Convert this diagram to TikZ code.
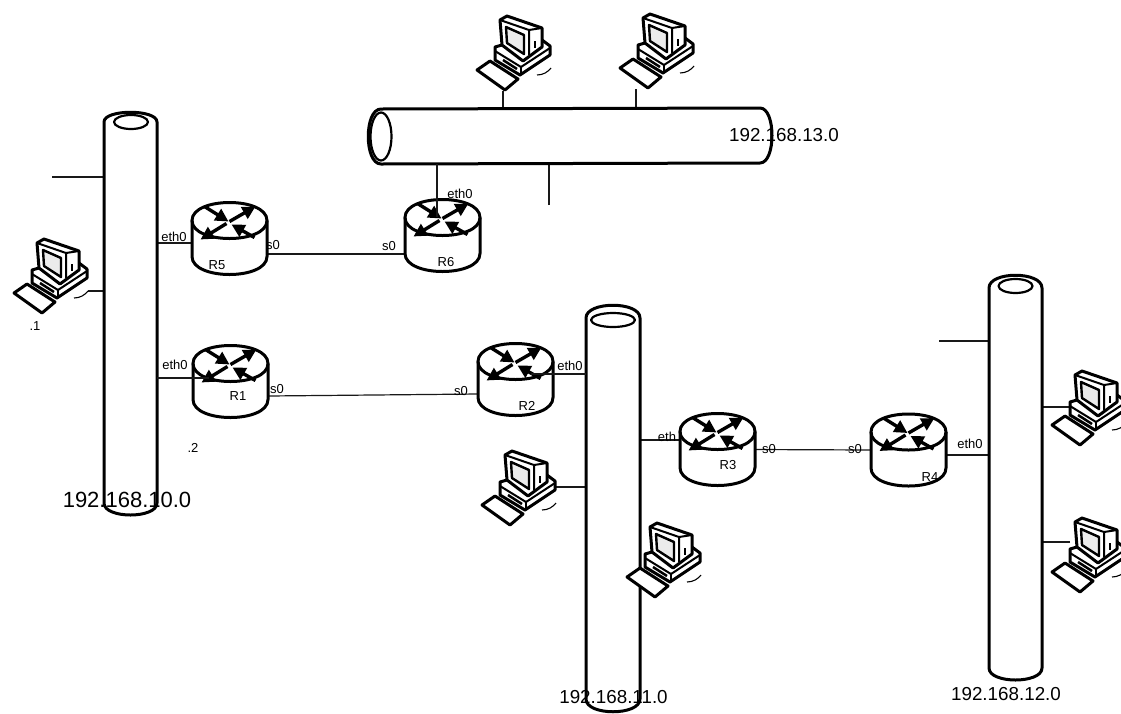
\documentclass[tikz,border=0pt]{standalone}
\usepackage{fontspec}
\setmainfont{Liberation Sans}
\usetikzlibrary{arrows.meta}
\tikzset{
  x=1pt,y=-1pt,
  bus/.style={line width=3pt,fill=white,line join=round},
  link/.style={line width=1.2pt,black!90},
  anchorbox/.style={inner sep=0pt,outer sep=0pt,minimum width=#1,draw=none},
  bigip/.style={font=\fontsize{18.8}{20}\selectfont,inner sep=0pt},
  iface/.style={font=\fontsize{13}{14}\selectfont,inner sep=0pt},
  rname/.style={font=\fontsize{13}{14}\selectfont,inner sep=0pt},
  routerpic/.pic={
    \fill[white] (-37.5,-18) -- (-37.5,18) .. controls (-37.5,42) and (37.5,42) .. (37.5,18) -- (37.5,-18) .. controls (37.5,-42) and (-37.5,-42) .. (-37.5,-18) -- cycle;
    \draw[line width=3pt] (-37.5,-18) .. controls (-37.5,-42) and (37.5,-42) .. (37.5,-18) .. controls (37.5,6) and (-37.5,6) .. (-37.5,-18) -- cycle;
    \draw[line width=3pt] (-37.5,-18) -- (-37.5,18) .. controls (-37.5,42) and (37.5,42) .. (37.5,18) -- (37.5,-18);
    \draw[line width=3.4pt,-{Triangle[length=13pt,width=13pt]}] (0,-17) -- (26,-32);
    \draw[line width=3.4pt,-{Triangle[length=13pt,width=13pt]}] (-3,-15) -- (-29,1);
    \draw[line width=3.4pt,-{Triangle[length=13pt,width=13pt]}] (-25,-32) -- (-1,-17);
    \draw[line width=3.4pt,-{Triangle[length=13pt,width=13pt]}] (25,-1) -- (2,-14);
  },
  pcpic/.pic={
    \begin{scope}[line width=3pt,line join=round,fill=white]
    \filldraw (2,55) -- (15,46) -- (43,64) -- (30,75) -- cycle;
    \filldraw (20,32) -- (20,45) -- (45,60) -- (75,40) -- (75,31) -- (67,25) -- (27,30) -- cycle;
    \draw[line width=2pt] (20,36) -- (46,52) -- (75,33);
    \draw[line width=2pt] (46,52) -- (46,60);
    \draw[line width=2.5pt] (28,45) -- (42,54);
    \filldraw (25,5) -- (32,1) -- (67,13) -- (67,32) -- (48,46) -- (27,30) -- cycle;
    \draw[line width=2pt] (25,5) -- (54,15) -- (54,40);
    \draw[line width=2pt] (54,15) -- (67,13);
    \draw[line width=2.4pt,fill=black!8] (31,12) -- (49,20) -- (49,39) -- (32,28) -- cycle;
    \draw[line width=1.4pt] (60,26) -- (60,33);
    \draw[line width=1.1pt] (62,60) .. controls (68,60) and (73,57) .. (76,53);
    \end{scope}
  }
}
\begin{document}
\begin{tikzpicture}
\useasboundingbox (0,0) rectangle (1121,713);
\clip (0,0) rectangle (1121,713);
% invisible anchors
\node[anchorbox=53pt,minimum height=403pt] (B10) at (130.5,313.5) {};
\node[anchorbox=404pt,minimum height=56pt] (B13) at (570,136) {};
\node[anchorbox=54pt,minimum height=407pt] (B11) at (613,508.5) {};
\node[anchorbox=53pt,minimum height=405pt] (B12) at (1015.5,477.5) {};
\node[anchorbox=75pt,minimum height=73pt] (R5) at (229.5,238.5) {};
\node[anchorbox=75pt,minimum height=73pt] (R1) at (230.5,381.5) {};
\node[anchorbox=75pt,minimum height=75pt] (R6) at (442.5,235.5) {};
\node[anchorbox=75pt,minimum height=75pt] (R2) at (515.5,379.5) {};
\node[anchorbox=75pt,minimum height=75pt] (R3) at (717.5,449.5) {};
\node[anchorbox=75pt,minimum height=75pt] (R4) at (908.5,450) {};
\node[anchorbox=76pt,minimum height=76pt] (P1) at (50,276) {};
\node[anchorbox=76pt,minimum height=76pt] (P2) at (513,53) {};
\node[anchorbox=76pt,minimum height=76pt] (P3) at (656,51) {};
\node[anchorbox=76pt,minimum height=76pt] (P4) at (518,488) {};
\node[anchorbox=76pt,minimum height=76pt] (P5) at (663,560) {};
\node[anchorbox=76pt,minimum height=76pt] (P6) at (1088,408) {};
\node[anchorbox=76pt,minimum height=76pt] (P7) at (1088,555) {};
\coordinate (S10) at (52,177);
\coordinate (S12) at (939,341);
\coordinate (S13) at (549,205);
% connectors behind the buses
\draw[link] (S10) -- (S10 -| B10.west);
\draw[link] (S12) -- (S12 -| B12.west);
\draw[link] (S13) -- (S13 |- B13.south);
\draw[link] ([yshift=-15pt]P1.east) -- ([yshift=-15pt]P1.east -| B10.west);
\draw[link] ([xshift=-10pt]P2.south) -- ([xshift=-10pt]P2.south |- B13.north);
\draw[link] ([xshift=-20pt]P3.south) -- ([xshift=-20pt]P3.south |- B13.north);
\draw[link] ([yshift=1pt]P4.east) -- ([yshift=1pt]P4.east -| B11.west);
\draw[link] ([xshift=-18pt,yshift=1pt]P6.center) -- ([xshift=-18pt,yshift=1pt]P6.center -| B12.east);
\draw[link] ([xshift=-18pt,yshift=13pt]P7.center) -- ([xshift=-18pt,yshift=13pt]P7.center -| B12.east);
\draw[link] ([yshift=-4.5pt]R5.west) -- ([yshift=-4.5pt]R5.west -| B10.east);
\draw[link] ([yshift=-15.5pt]R5.east) -- ([yshift=-18.5pt]R6.west);
\draw[link] ([yshift=-14.5pt]R1.east) -- ([yshift=-14.5pt]R2.west);
\draw[link] ([yshift=9.5pt]R3.west) -- ([yshift=9.5pt]R3.west -| B11.east);
\draw[link] (R3.east) -- (R4.west);
\draw[link] ([yshift=-5pt]R4.east) -- ([yshift=-5pt]R4.east -| B12.west);
% buses
\draw[bus] (104,122) -- (104,503) .. controls (104,519) and (157,519) .. (157,503) -- (157,122) .. controls (157,109) and (104,109) .. (104,122) -- cycle;
\draw[bus,line width=2.2pt] (131,122) ellipse (17pt and 7pt);
\draw[bus] (381,109) -- (760,108) .. controls (776,108) and (776,163) .. (760,163) -- (381,164) .. controls (364,164) and (364,109) .. (381,109) -- cycle;
\draw[bus,line width=2.2pt] (381,136.5) ellipse (10.5pt and 24pt);
\draw[bus] (586,318) -- (586,699) .. controls (586,716) and (640,716) .. (640,699) -- (640,318) .. controls (640,301) and (586,301) .. (586,318) -- cycle;
\draw[bus,line width=2.2pt] (613,320) ellipse (22pt and 7pt);
\draw[bus] (989,288) -- (989,668) .. controls (989,684) and (1042,684) .. (1042,668) -- (1042,288) .. controls (1042,271) and (989,271) .. (989,288) -- cycle;
\draw[bus,line width=2.2pt] (1015.5,286) ellipse (17pt and 7pt);
% routers
\pic at (R5.center) {routerpic};
\pic at (R1.center) {routerpic};
\pic at (R6.center) {routerpic};
\pic at (R2.center) {routerpic};
\pic at (R3.center) {routerpic};
\pic at (R4.center) {routerpic};
% links that run across a router top
\draw[link] ([xshift=-5.5pt,yshift=19pt]R6.center) -- ([xshift=-5.5pt]R6.center |- B13.south);
\draw[link] ([yshift=5.5pt]R2.east) ++(-22,0) -- ([yshift=5.5pt]R2.east -| B11.west);
\draw[link] ([yshift=3.5pt,xshift=16pt]R1.west) -- ([yshift=3.5pt]R1.west -| B10.east);
% computers
\pic at (12,238) {pcpic};
\pic at (475,15) {pcpic};
\pic at (618,13) {pcpic};
\pic at (480,450) {pcpic};
\pic at (625,522) {pcpic};
\pic at (1050,370) {pcpic};
\pic at (1050,517) {pcpic};
% labels
\node[iface] (a1) at (174,237) {eth0};
\node[iface] (a2) at (273,245) {s0};
\node[iface] (a3) at (389,246) {s0};
\node[iface] (a4) at (460,194) {eth0};
\node[iface] (a5) at (175,365) {eth0};
\node[iface] (a6) at (277,389) {s0};
\node[iface] (a7) at (461,391) {s0};
\node[iface] (a8) at (570,366) {eth0};
\node[iface] (a9) at (667,437) {eth};
\node[iface] (a10) at (769,449) {s0};
\node[iface] (a11) at (855,449) {s0};
\node[iface] (a12) at (970,444) {eth0};
\node[iface] (d1) at (35,326) {.1};
\node[iface] (d2) at (193,448) {.2};
\node[rname] (n5) at (217,265) {R5};
\node[rname] (n1) at (238,396) {R1};
\node[rname] (n6) at (446,262) {R6};
\node[rname] (n2) at (527,406) {R2};
\node[rname] (n3) at (728,465) {R3};
\node[rname] (n4) at (930,477) {R4};
\node[bigip,font=\fontsize{22}{24}\selectfont] (t10) at (127,500) {192.168.10.0};
\node[bigip] (t13) at (784,135) {192.168.13.0};
\node[bigip] (t11) at (613.5,697) {192.168.11.0};
\node[bigip] (t12) at (1006,694) {192.168.12.0};
\end{tikzpicture}
\end{document}
